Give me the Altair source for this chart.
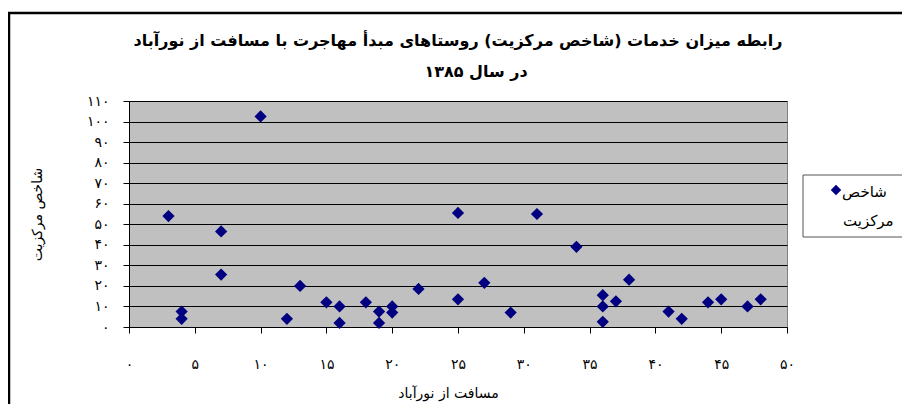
import altair as alt
import pandas as pd

# ---- data ----
distance = [3, 4, 4, 7, 7, 10, 12, 13, 15, 16, 16, 18, 19, 19, 20, 20, 22,
            25, 25, 27, 29, 31, 34, 36, 36, 36, 37, 38, 41, 42, 44, 45, 47, 48]
centrality = [54, 7.5, 4, 46.5, 25.5, 102.5, 4, 20, 12, 10, 2, 12, 7.5, 2, 10, 7, 18.5,
              55.5, 13.5, 21.5, 7, 55, 39, 15.5, 10, 2.5, 12.5, 23, 7.5, 4, 12, 13.5, 10, 13.5]

x_ticks = [0, 5, 10, 15, 20, 25, 30, 35, 40, 45, 50]
x_tick_labels = ["۰", "۵", "۱۰", "۱۵", "۲۰", "۲۵", "۳۰", "۳۵", "۴۰", "۴۵", "۵۰"]
y_ticks = [0, 10, 20, 30, 40, 50, 60, 70, 80, 90, 100, 110]
y_tick_labels = ["۰", "۱۰", "۲۰", "۳۰", "۴۰", "۵۰", "۶۰", "۷۰", "۸۰", "۹۰", "۱۰۰", "۱۱۰"]

title_lines = ["رابطه میزان خدمات (شاخص مرکزیت) روستاهای مبدأ مهاجرت با مسافت از نورآباد",
               "در سال ۱۳۸۵"]
x_title = "مسافت از نورآباد"
y_title = "شاخص مرکزیت"
legend_lines = ["شاخص", "مرکزیت"]

FONT = "DejaVu Sans"
NAVY = "#000080"
W, H = 658, 226
PAD = {"left": 121, "top": 93, "right": 115, "bottom": 77}

df = pd.DataFrame({"x": distance, "y": centrality})
one = pd.DataFrame({"k": [0]})


def label_expr(vals, labs):
    expr = "datum.label"
    for v, l in reversed(list(zip(vals, labs))):
        expr = f"datum.value == {v} ? '{l}' : ({expr})"
    return expr


points = alt.Chart(df).mark_point(
    shape="diamond", filled=True, size=150, color=NAVY, opacity=1
).encode(
    x=alt.X("x:Q", scale=alt.Scale(domain=[0, 50], nice=False, zero=False),
            axis=alt.Axis(values=x_ticks, labelExpr=label_expr(x_ticks, x_tick_labels),
                          title=x_title, grid=False, tickSize=6, labelPadding=24,
                          titleX=319, titleY=66, titleBaseline="middle",
                          titleFontSize=14, titleFontWeight="normal", titleFont=FONT,
                          labelFont=FONT, labelFontSize=14, labelColor="black",
                          domainColor="black", tickColor="black", titleColor="black",
                          labelFlush=False)),
    y=alt.Y("y:Q", scale=alt.Scale(domain=[0, 110], nice=False),
            axis=alt.Axis(values=y_ticks, labelExpr=label_expr(y_ticks, y_tick_labels),
                          title=y_title, grid=True, gridColor="black", gridOpacity=1,
                          gridWidth=1, tickSize=6, labelPadding=14,
                          titleX=-92, titleY=113, titleAngle=270, titleBaseline="middle",
                          titleFontSize=14, titleFontWeight="normal", titleFont=FONT,
                          labelFont=FONT, labelFontSize=14, labelColor="black",
                          domainColor="black", tickColor="black", titleColor="black",
                          labelFlush=False)),
)

frame = alt.Chart(one).mark_rect(fillOpacity=0, stroke="black", strokeWidth=2.5).encode(
    x=alt.value(-120), x2=alt.value(W + 200), y=alt.value(-88), y2=alt.value(H + 200)
)

title1 = alt.Chart(one).mark_text(
    text=title_lines[0], font=FONT, fontSize=16, fontWeight="bold", align="center",
    baseline="middle", color="black"
).encode(x=alt.value(W / 2), y=alt.value(-60))
title2 = alt.Chart(one).mark_text(
    text=title_lines[1], font=FONT, fontSize=16, fontWeight="bold", align="center",
    baseline="middle", color="black"
).encode(x=alt.value(W / 2 + 18), y=alt.value(-29))

legend_box = alt.Chart(one).mark_rect(fill="white", stroke="#555555", strokeWidth=1).encode(
    x=alt.value(674), x2=alt.value(W + 150), y=alt.value(74), y2=alt.value(136)
)
legend_symbol = alt.Chart(one).mark_point(
    shape="diamond", filled=True, size=110, color=NAVY, opacity=1
).encode(x=alt.value(707), y=alt.value(89))
legend_t1 = alt.Chart(one).mark_text(
    text=legend_lines[0], font=FONT, fontSize=15, align="left", baseline="middle", color="black"
).encode(x=alt.value(713), y=alt.value(91))
legend_t2 = alt.Chart(one).mark_text(
    text=legend_lines[1], font=FONT, fontSize=15, align="left", baseline="middle", color="black"
).encode(x=alt.value(714), y=alt.value(120))

chart = alt.layer(
    points, legend_box, legend_symbol, legend_t1, legend_t2, title1, title2, frame
).properties(
    width=W, height=H,
    padding=PAD,
    autosize=alt.AutoSizeParams(type="none"),
    background="white",
).configure_view(
    stroke="#808080", fill="#C0C0C0", strokeWidth=1
)

chart.save("out.html", embed_options={"renderer": "svg", "actions": False})
